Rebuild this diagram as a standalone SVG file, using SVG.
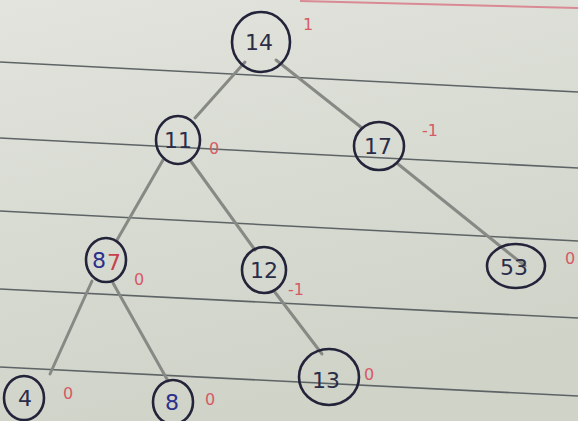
<svg xmlns="http://www.w3.org/2000/svg" width="578" height="421" viewBox="0 0 578 421">
<defs>
<linearGradient id="paper" x1="0" y1="0" x2="0.3" y2="1">
<stop offset="0" stop-color="#e2e4dd"/>
<stop offset="1" stop-color="#cfd3c8"/>
</linearGradient>
<style>
.rule{stroke:#5e6466;stroke-width:1.6;fill:none}
.edge{stroke:#878985;stroke-width:3;fill:none;stroke-linecap:round}
.node ellipse{fill:none;stroke:#23243a;stroke-width:2.6}
.val{font-family:"DejaVu Sans",sans-serif;font-size:22px;fill:#2a2c48;text-anchor:middle}
.bf{font-family:"DejaVu Sans",sans-serif;font-size:16px;fill:#d65a66;text-anchor:middle}
</style>
</defs>
<rect width="578" height="421" fill="url(#paper)"/>
<g id="rules">
<line x1="300" y1="1" x2="578" y2="8" stroke="#d98a94" stroke-width="2"/>
<line class="rule" x1="0" y1="62" x2="578" y2="92"/>
<line class="rule" x1="0" y1="138" x2="578" y2="168"/>
<line class="rule" x1="0" y1="211" x2="578" y2="241"/>
<line class="rule" x1="0" y1="289" x2="578" y2="318"/>
<line class="rule" x1="0" y1="367" x2="578" y2="396"/>
</g>
<g id="connectors">
<line class="edge" x1="245" y1="62" x2="195" y2="118"/>
<line class="edge" x1="276" y1="60" x2="362" y2="128"/>
<line class="edge" x1="163" y1="160" x2="117" y2="240"/>
<line class="edge" x1="190" y1="160" x2="255" y2="250"/>
<line class="edge" x1="398" y1="164" x2="525" y2="266"/>
<line class="edge" x1="92" y1="281" x2="50" y2="374"/>
<line class="edge" x1="113" y1="283" x2="168" y2="381"/>
<line class="edge" x1="274" y1="291" x2="322" y2="354"/>
</g>
<g id="n14" class="node"><ellipse cx="261" cy="42" rx="29" ry="30"/><text class="val" x="259" y="50">14</text><text class="bf" x="308" y="30">1</text></g>
<g id="n11" class="node"><ellipse cx="178" cy="140" rx="22" ry="24"/><text class="val" x="178" y="148">11</text><text class="bf" x="214" y="154">0</text></g>
<g id="n17" class="node"><ellipse cx="379" cy="146" rx="25" ry="24"/><text class="val" x="378" y="154">17</text><text class="bf" x="430" y="136">-1</text></g>
<g id="n87" class="node"><ellipse cx="106" cy="260" rx="20" ry="22"/><text class="val" x="99" y="268" fill="#2b2f8a" style="fill:#2b2f8a">8</text><text class="val" x="114" y="270" style="fill:#c8404e">7</text><text class="bf" x="139" y="285">0</text></g>
<g id="n12" class="node"><ellipse cx="264" cy="270" rx="22" ry="23"/><text class="val" x="264" y="278">12</text><text class="bf" x="296" y="295">-1</text></g>
<g id="n53" class="node"><ellipse cx="516" cy="266" rx="29" ry="22"/><text class="val" x="514" y="275">53</text><text class="bf" x="570" y="264">0</text></g>
<g id="n4" class="node"><ellipse cx="24" cy="398" rx="20" ry="22"/><text class="val" x="25" y="406">4</text><text class="bf" x="68" y="399">0</text></g>
<g id="n8" class="node"><ellipse cx="173" cy="402" rx="20" ry="22"/><text class="val" x="172" y="410" style="fill:#2b2f8a">8</text><text class="bf" x="210" y="405">0</text></g>
<g id="n13" class="node"><ellipse cx="329" cy="377" rx="30" ry="28"/><text class="val" x="326" y="388">13</text><text class="bf" x="369" y="380">0</text></g>
</svg>
